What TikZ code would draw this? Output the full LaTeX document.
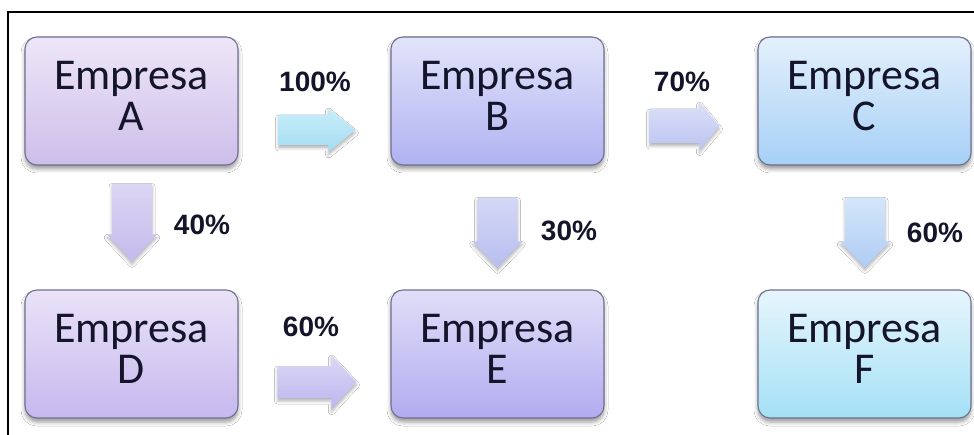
\documentclass[tikz,border=0pt]{standalone}
\usepackage{fontspec}
\setmainfont{Carlito}
\newfontfamily\labfont{Liberation Sans}
\usetikzlibrary{calc,shadows.blur}

\definecolor{txt}{HTML}{14142A}
\definecolor{boxline}{HTML}{707090}
\definecolor{aTop}{HTML}{EEE6F8}\definecolor{aBot}{HTML}{CDBEEA}
\definecolor{bTop}{HTML}{E2E4FA}\definecolor{bBot}{HTML}{B0B2F2}
\definecolor{cTop}{HTML}{E4F0FC}\definecolor{cBot}{HTML}{A6D0F6}
\definecolor{dTop}{HTML}{EAE2F8}\definecolor{dBot}{HTML}{C6B8EE}
\definecolor{eTop}{HTML}{E0DEF8}\definecolor{eBot}{HTML}{B2ACF0}
\definecolor{fTop}{HTML}{E6F6FC}\definecolor{fBot}{HTML}{A4E0F6}
\definecolor{abT}{HTML}{C8EEF9}\definecolor{abB}{HTML}{A4DCF2}
\definecolor{bcT}{HTML}{DCE0F8}\definecolor{bcB}{HTML}{BCC4F2}
\definecolor{deT}{HTML}{DCD8F6}\definecolor{deB}{HTML}{BCB6EE}
\definecolor{adT}{HTML}{DCD6F4}\definecolor{adB}{HTML}{C4BAEC}
\definecolor{beT}{HTML}{D4D8F6}\definecolor{beB}{HTML}{B8BEF0}
\definecolor{cfT}{HTML}{D4E6FA}\definecolor{cfB}{HTML}{B0CCF4}

\newcommand{\harrowshape}[6]{% style, tail, tip, shaft half, head half, head length
  \path[#1] let \p1=#2, \p2=#3 in
    (\x1,\y1+#4pt) -- (\x2-#6pt,\y1+#4pt) -- (\x2-#6pt,\y1+#5pt) -- (\x2,\y1)
    -- (\x2-#6pt,\y1-#5pt) -- (\x2-#6pt,\y1-#4pt) -- (\x1,\y1-#4pt) -- cycle;}
\newcommand{\varrowshape}[6]{% style, tail, tip, shaft half, head half, head length
  \path[#1] let \p1=#2, \p2=#3 in
    (\x1-#4pt,\y1) -- (\x1-#4pt,\y2+#6pt) -- (\x1-#5pt,\y2+#6pt) -- (\x1,\y2)
    -- (\x1+#5pt,\y2+#6pt) -- (\x1+#4pt,\y2+#6pt) -- (\x1+#4pt,\y1) -- cycle;}

\tikzset{
  box/.style={draw=boxline, line width=1.1pt, rounded corners=12pt,
    minimum width=213pt, minimum height=128pt, inner sep=0pt, align=center,
    font=\fontsize{44}{41}\selectfont, text=txt, text depth=10pt,
    blur shadow={shadow xshift=0pt, shadow yshift=-4pt, shadow blur radius=4pt}},
  pct/.style={font=\labfont\bfseries\fontsize{28}{30}\selectfont, text=txt, inner sep=0pt},
  blockarr/.style={blur shadow={shadow xshift=0pt, shadow yshift=-3pt, shadow blur radius=3pt, shadow opacity=30}},
}

\begin{document}
\begin{tikzpicture}[x=1pt,y=-1pt]
\useasboundingbox (0,0) rectangle (974,435);
\fill[white] (0,0) rectangle (974,435);
\draw[line width=1.6pt] (8,435) -- (8,12) -- (974,12);

\node[box, top color=aTop, bottom color=aBot] (A) at (131.5,101) {Empresa\\A};
\node[box, top color=bTop, bottom color=bBot] (B) at (497.5,101) {Empresa\\B};
\node[box, top color=cTop, bottom color=cBot] (C) at (864.5,101) {Empresa\\C};
\node[box, top color=dTop, bottom color=dBot] (D) at (131.5,354) {Empresa\\D};
\node[box, top color=eTop, bottom color=eBot] (E) at (497.5,354) {Empresa\\E};
\node[box, top color=fTop, bottom color=fBot] (F) at (864.5,354) {Empresa\\F};

\harrowshape{blockarr, top color=abT, bottom color=abB}{($(A.east)+(40,29)$)}{($(B.west)+(-35,29)$)}{15}{22}{27}
\harrowshape{blockarr, top color=bcT, bottom color=bcB}{($(B.east)+(45,25)$)}{($(C.west)+(-38,25)$)}{17}{24}{20}
\harrowshape{blockarr, top color=deT, bottom color=deB}{($(D.east)+(39,28)$)}{($(E.west)+(-34,28)$)}{16}{27}{25}
\varrowshape{blockarr, top color=adT, bottom color=adB}{($(A.south)+(0.5,18)$)}{($(D.north)+(0.5,-28)$)}{20}{25}{27}
\varrowshape{blockarr, top color=beT, bottom color=beB}{($(B.south)+(0,32)$)}{($(E.north)+(0,-22)$)}{20}{25}{26}
\varrowshape{blockarr, top color=cfT, bottom color=cfB}{($(C.south)+(0.5,32)$)}{($(F.north)+(0.5,-22)$)}{20}{25}{26}

\node[pct] (pAB) at (315,82) {100\%};
\node[pct] (pBC) at (682,82) {70\%};
\node[pct] (pAD) at (202,225) {40\%};
\node[pct] (pBE) at (569,231) {30\%};
\node[pct] (pDE) at (311,327) {60\%};
\node[pct] (pCF) at (935,233) {60\%};
\end{tikzpicture}
\end{document}
